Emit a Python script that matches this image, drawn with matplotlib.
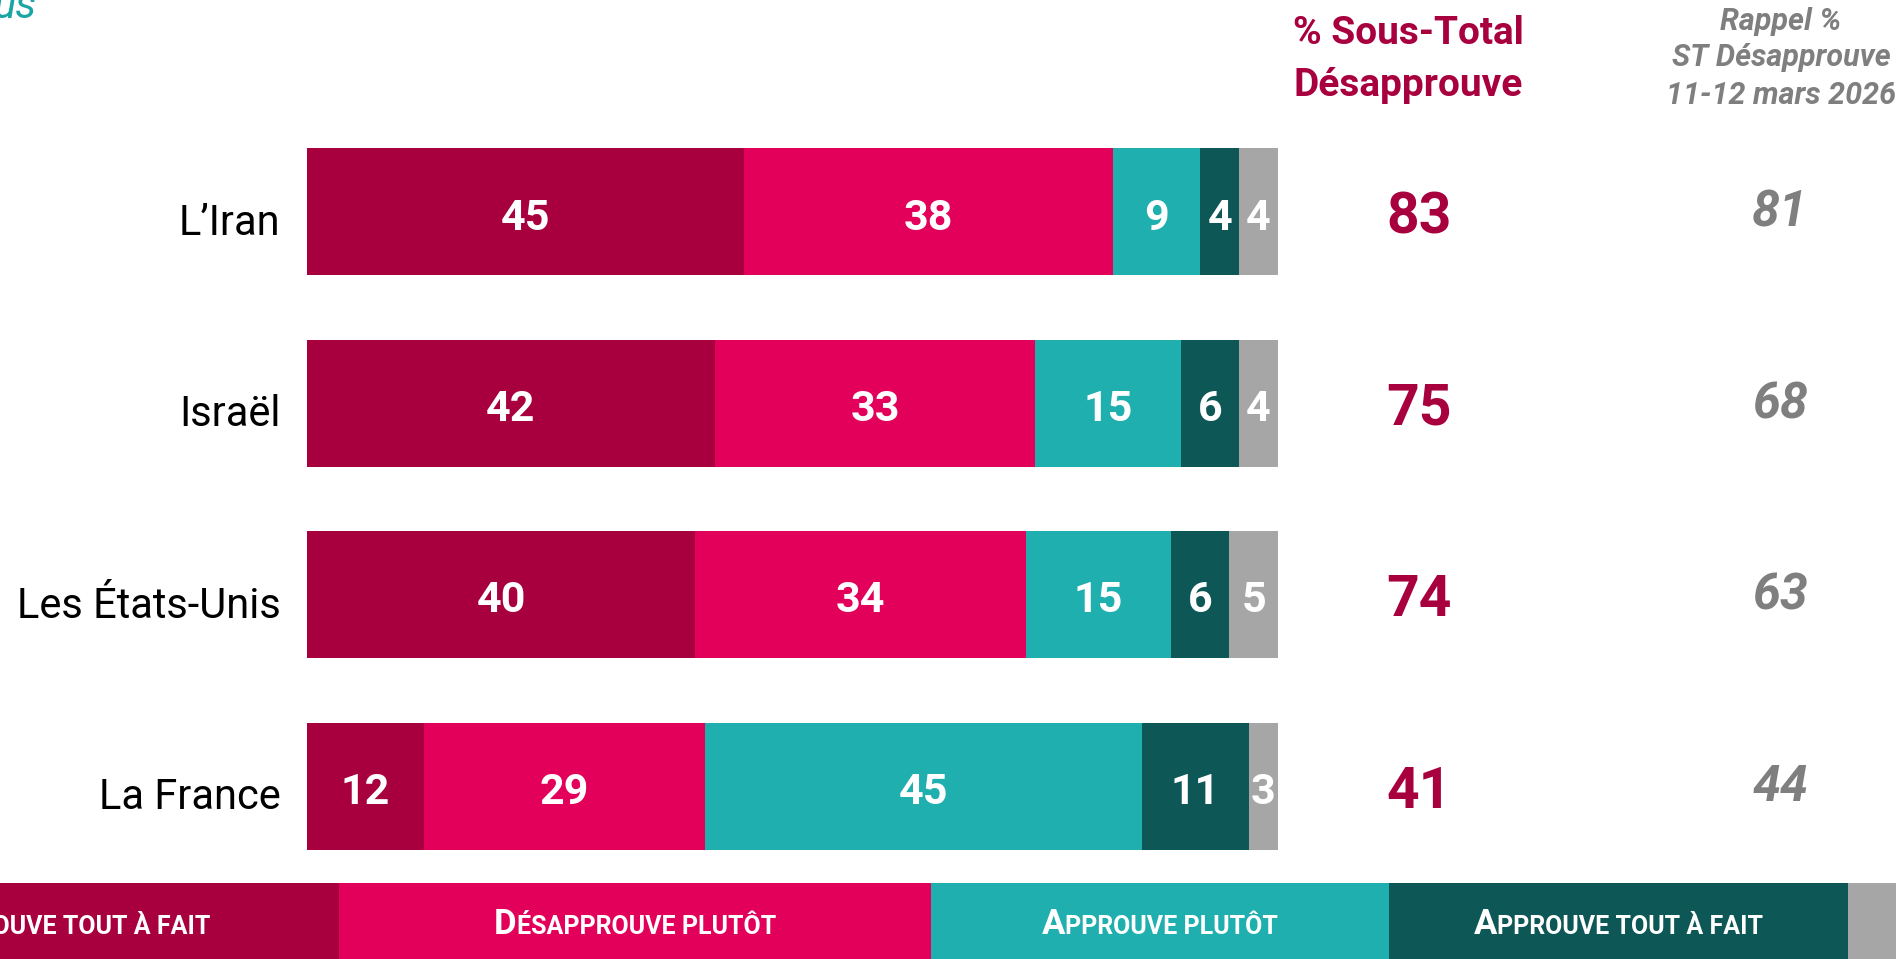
import numpy as np
import matplotlib
matplotlib.use("Agg")
import matplotlib.pyplot as plt
from matplotlib.offsetbox import TextArea, HPacker, AnnotationBbox
from matplotlib.transforms import ScaledTranslation

plt.rcParams['font.family'] = ['Roboto', 'DejaVu Sans']

# donnees
pays = ["L’Iran", "Israël", "Les États-Unis", "La France"]
desapprouve_taf = [45, 42, 40, 12]
desapprouve_plutot = [38, 33, 34, 29]
approuve_plutot = [9, 15, 15, 45]
approuve_taf = [4, 6, 6, 11]
nsp = [4, 4, 5, 3]
sous_total = [83, 75, 74, 41]
rappel = [81, 68, 63, 44]

series = [desapprouve_taf, desapprouve_plutot, approuve_plutot, approuve_taf, nsp]
couleurs = ['#A8003F', '#E3005A', '#1FAFAE', '#0E5757', '#A6A6A6']
legende = [("D", "ÉSAPPROUVE TOUT À FAIT"), ("D", "ÉSAPPROUVE PLUTÔT"),
           ("A", "PPROUVE PLUTÔT"), ("A", "PPROUVE TOUT À FAIT"), ("", "")]

ROUGE = '#A8003F'
GRIS = '#7F7F7F'

W, H = 1896, 959
fig = plt.figure(figsize=(W / 100, H / 100), dpi=100)

# barres empilees
ax = fig.add_axes([307 / W, 1 - 882 / H, 971 / W, 766 / H])
y = np.arange(len(pays))
left = np.zeros(len(pays))
for vals, c in zip(series, couleurs):
    ax.barh(y, vals, left=left, height=0.663, color=c)
    for yi, (l, v) in enumerate(zip(left, vals)):
        ax.annotate(str(v), (l + v / 2, yi), xytext=(0, -4.5), textcoords='offset points',
                    ha='center', va='center', color='white', fontsize=31, fontweight='bold')
    left += vals
ax.set_xlim(0, 100)
ax.set_ylim(3.5, -0.5)
ax.set_yticks(y, pays, fontsize=30)
ax.tick_params(axis='y', length=0, pad=19)
ax.set_xticks([])
for lbl in ax.get_yticklabels():
    lbl.set_transform(lbl.get_transform() + ScaledTranslation(0, -5 / 72, fig.dpi_scale_trans))
for s in ax.spines.values():
    s.set_visible(False)

# colonnes de droite
for i in range(len(pays)):
    ax.annotate(str(sous_total[i]), (114.5, i), xytext=(0, -4.3), textcoords='offset points',
                ha='center', va='center', fontsize=41, fontweight='bold', color=ROUGE,
                annotation_clip=False)
    ax.annotate(str(rappel[i]), (151.7, i), xytext=(0, -1), textcoords='offset points',
                ha='center', va='center', fontsize=36, fontweight='bold', style='italic',
                color=GRIS, annotation_clip=False)

# en-tetes
fig.text(1293 / W, 1 - 34 / H, "% Sous-Total", ha='left', va='center', fontsize=28,
         fontweight='bold', color=ROUGE)
fig.text(1293 / W, 1 - 86 / H, "Désapprouve", ha='left', va='center', fontsize=28,
         fontweight='bold', color=ROUGE)
for txt, yy in zip(["Rappel %", "ST Désapprouve", "11-12 mars 2026"], [21, 57, 95]):
    fig.text(1781 / W, 1 - yy / H, txt, ha='center', va='center', fontsize=22,
             fontweight='bold', style='italic', color=GRIS)

fig.text(36 / W, 1 - 18 / H, "us", ha='right', va='baseline', fontsize=30,
         style='italic', color='#1AA5A5')

# legende en bas
lax = fig.add_axes([0, 0, 1, 76 / H])
lax.set_xlim(0, W)
lax.set_ylim(0, 1)
lax.axis('off')
starts = [-253, 339, 931, 1389, 1848]
widths = [592, 592, 458, 459, 100]
lax.barh(0.5, widths, left=starts, height=1, color=couleurs)
for (cap, rest), s, w in zip(legende, starts, widths):
    if not cap:
        continue
    box = HPacker(children=[
        TextArea(cap, textprops=dict(fontsize=25, fontweight='bold', color='white')),
        TextArea(rest, textprops=dict(fontsize=18, fontweight='bold', color='white')),
    ], align='baseline', pad=0, sep=0)
    ab = AnnotationBbox(box, (s + w / 2, 0.45), xycoords='data', frameon=False,
                        box_alignment=(0.5, 0.5), annotation_clip=False)
    lax.add_artist(ab)

fig.savefig("out.png", dpi=100)
